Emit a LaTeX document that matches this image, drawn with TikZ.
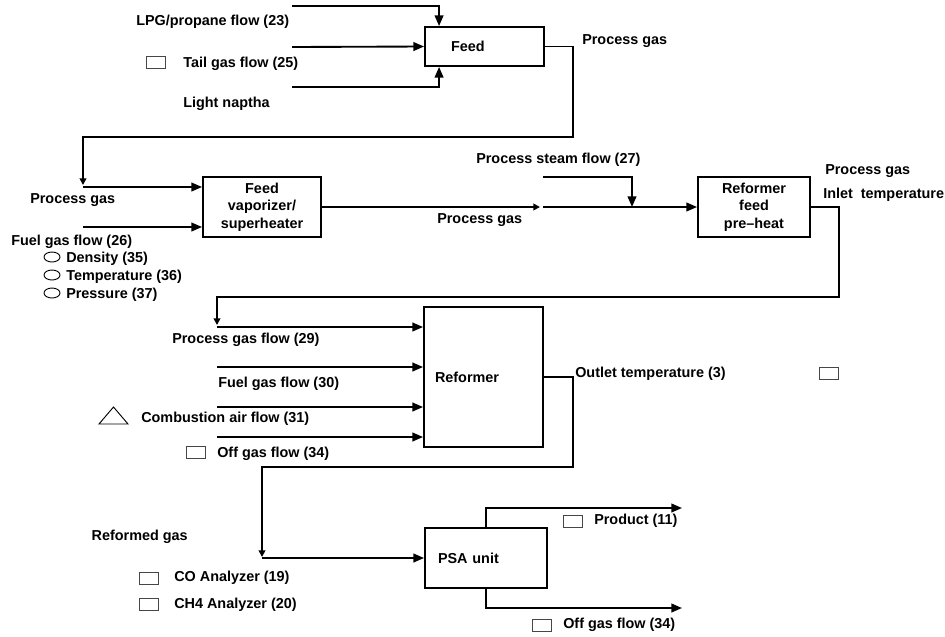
\documentclass[tikz,border=0pt]{standalone}
\usepackage{fontspec}
\setmainfont{Liberation Sans}
\usetikzlibrary{arrows.meta,positioning,shapes.geometric,calc}
\definecolor{tagline}{RGB}{70,70,70}
\tikzset{
  unit/.style={rectangle,draw,line width=1.4pt,inner sep=0pt,
               font=\fontsize{10.8}{13}\selectfont\bfseries,align=center},
  arr/.style={-{Triangle[length=8pt,width=6.5pt]},line width=1.4pt},
  arrs/.style={-{Triangle[length=5pt,width=5pt]},line width=1.4pt},
  lbl/.style={anchor=west,inner sep=0pt,text height=7.7pt,text depth=0pt,
              font=\fontsize{10.8}{13}\selectfont\bfseries},
  tag/.style={rectangle,draw=tagline,line width=0.7pt,minimum width=14.25pt,
              minimum height=9pt,inner sep=0pt},
  ctag/.style={ellipse,draw,line width=0.7pt,minimum width=12pt,
               minimum height=7.5pt,inner sep=0pt},
}
\begin{document}
\begin{tikzpicture}[x=0.75pt,y=-0.75pt]
  \useasboundingbox (0,0) rectangle (945,636);
  % process units
  \node[unit,text width=50.25pt,inner xsep=19.5pt,minimum height=29.25pt,align=left]
        (feed) at (484.5,46.5) {Feed};
  \node[unit,minimum width=88.5pt,minimum height=45pt]
        (vap) at (262,207) {Feed\\vaporizer/\\superheater};
  \node[unit,minimum width=84pt,minimum height=45pt]
        (pre) at (754,207) {Reformer\\feed\\ pre--heat};
  \node[unit,text width=72.75pt,inner xsep=8.25pt,minimum height=105pt,align=left]
        (ref) at (483.5,377) {Reformer};
  \node[unit,text width=72pt,inner xsep=9.75pt,minimum height=45pt,align=left]
        (psa) at (486,558) {PSA unit};
  % free line ends
  \coordinate (lpg)    at (292,6);
  \coordinate (tail)   at (292,47);
  \coordinate (nap)    at (292,87);
  \coordinate (fold)   at (573,137);
  \coordinate (pgin)   at (83,187);
  \coordinate (fg)     at (83,227);
  \coordinate (pgout)  at (540,207);
  \coordinate (pgon)   at (543,207);
  \coordinate (steam)  at (543,177);
  \coordinate (mix)    at (632,207);
  \coordinate (loop)   at (839,297);
  \coordinate (rin)    at (217,327);
  \coordinate (fgr)    at (217,367);
  \coordinate (air)    at (217,407);
  \coordinate (off)    at (217,437);
  \coordinate (rout)   at (573,467);
  \coordinate (psain)  at (262,558);
  \coordinate (prod)   at (682,508);
  \coordinate (offout) at (682,608);
  % streams
  \draw[arr] (lpg) -| ($(feed.north west)+(15,0)$);
  \draw[arr] (tail) -- (feed.west);
  \draw[arr] (nap) -| ($(feed.south west)+(15,0)$);
  \draw[arrs] (feed.east) -| (fold) -| ($(pgin)+(0,-2)$);
  \draw[arr] (pgin) -- (pgin -| vap.west);
  \draw[arr] (fg) -- (fg -| vap.west);
  \draw[arrs] (vap.east) -- (pgout);
  \draw[arr] (pgon) -- (pre.west);
  \draw[arr] (steam) -| (mix);
  \draw[arrs] (pre.east) -| (loop) -| ($(rin)+(0,-2)$);
  \foreach \c in {rin,fgr,air,off}
    \draw[arr] (\c) -- (\c -| ref.west);
  \draw[arrs] (ref.east) -| (rout) -| ($(psain)+(0,-1)$);
  \draw[arr] (psain) -- (psa.west);
  \draw[arr] (psa.north) |- (prod);
  \draw[arr] (psa.south) |- (offout);
  % labels
  \node[lbl] (lpgtxt)  at (136,20)  {LPG/propane flow (23)};
  \node[lbl] (tailtxt) at (183,62)  {Tail gas flow (25)};
  \node[lbl] (naptxt)  at (183,102) {Light naptha};
  \node[lbl] (pgtxta)  at (582,39)  {Process gas};
  \node[lbl] (pgtxtb)  at (30,198)  {Process gas};
  \node[lbl] (fgtxt)   at (11,240)  {Fuel gas flow (26)};
  \node[lbl] (pgtxtc)  at (437,218) {Process gas};
  \node[lbl] (sttxt)   at (476,158) {Process steam flow (27)};
  \node[lbl] (pgtxtd)  at (825,169) {Process gas};
  \node[lbl] (intxt)   at (823,193) {Inlet\ \ temperature};
  \node[lbl] (rintxt)  at (172,338) {Process gas flow (29)};
  \node[lbl] (fgrtxt)  at (218,382) {Fuel gas flow (30)};
  \node[lbl] (airtxt)  at (141,417) {Combustion air flow (31)};
  \node[lbl] (offtxt)  at (217,452) {Off gas flow (34)};
  \node[lbl] (outtxt)  at (575,372) {Outlet temperature (3)};
  \node[lbl,anchor=east] (rgtxt) at (188,535) {Reformed gas};
  \node[lbl] (cotxt)   at (174,576) {CO Analyzer (19)};
  \node[lbl] (chtxt)   at (174,603) {CH4 Analyzer (20)};
  \node[lbl] (prtxt)   at (594,519) {Product (11)};
  \node[lbl] (ofptxt)  at (563,623) {Off gas flow (34)};
  % fuel gas properties
  \foreach \n/\y/\lab in {dens/257/{Density (35)},temp/275/{Temperature (36)},
                          pres/293/{Pressure (37)}}{
    \node[ctag] (c\n) at (52,\y) {};
    \node[lbl] (t\n) at (66,\y) {\lab};
  }
  % instrument tags
  \foreach \n/\x/\y in {tail/155.5/62, off/195.5/452.5, outl/828.5/373.5,
                        prod/572.5/521.5, co/149/578, ch/149/604.5, offp/541.5/625}
    \node[tag] (tag\n) at (\x,\y) {};
  \draw[line width=0.7pt] (99,424) -- (128,424) -- (113.5,407) -- cycle;
\end{tikzpicture}
\end{document}
